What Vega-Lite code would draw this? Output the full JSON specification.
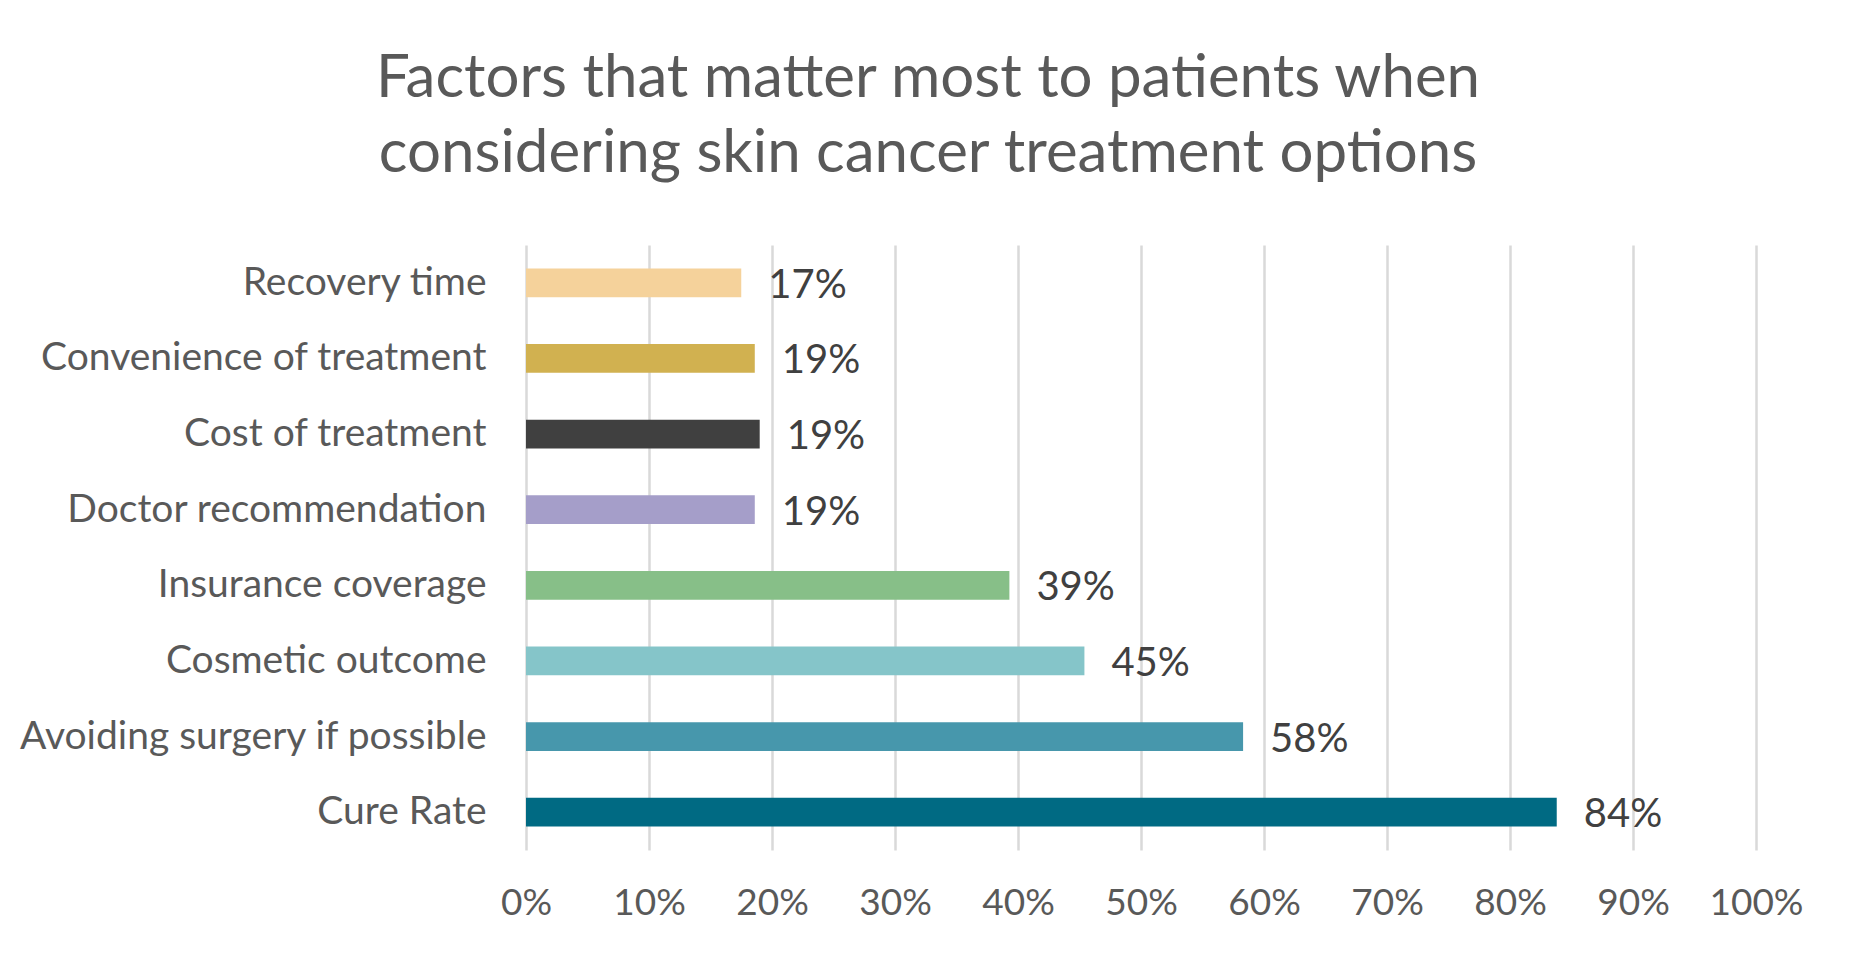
{
  "$schema": "https://vega.github.io/schema/vega-lite/v6.json",
  "autosize": {"type": "none"},
  "width": 1230,
  "height": 605,
  "padding": {"left": 526, "top": 245, "right": 104, "bottom": 112},
  "background": "white",
  "title": {
    "text": ["Factors that matter most to patients when", "considering skin cancer treatment options"],
    "font": "Lato",
    "fontSize": 60,
    "fontWeight": "normal",
    "color": "#595959",
    "anchor": "middle",
    "frame": "group",
    "dx": -213,
    "lineHeight": 75,
    "baseline": "alphabetic",
    "offset": 13
  },
  "data": {
    "values": [
      {"factor": "Recovery time", "value": 0.175, "label": "17%"},
      {"factor": "Convenience of treatment", "value": 0.186, "label": "19%"},
      {"factor": "Cost of treatment", "value": 0.19, "label": "19%"},
      {"factor": "Doctor recommendation", "value": 0.186, "label": "19%"},
      {"factor": "Insurance coverage", "value": 0.393, "label": "39%"},
      {"factor": "Cosmetic outcome", "value": 0.454, "label": "45%"},
      {"factor": "Avoiding surgery if possible", "value": 0.583, "label": "58%"},
      {"factor": "Cure Rate", "value": 0.838, "label": "84%"}
    ]
  },
  "encoding": {
    "y": {
      "field": "factor",
      "type": "nominal",
      "sort": null,
      "scale": {"paddingInner": 0.62, "paddingOuter": 0.31},
      "axis": {
        "title": null,
        "domain": false,
        "ticks": false,
        "labelFont": "Lato",
        "labelFontSize": 39,
        "labelColor": "#595959",
        "labelPadding": 40,
        "labelLimit": 0
      }
    },
    "x": {
      "field": "value",
      "type": "quantitative",
      "scale": {"domain": [0, 1], "nice": false},
      "axis": {
        "title": null,
        "values": [0, 0.1, 0.2, 0.3, 0.4, 0.5, 0.6, 0.7, 0.8, 0.9, 1],
        "format": ".0%",
        "domain": false,
        "ticks": false,
        "grid": true,
        "gridColor": "#d9d9d9",
        "gridWidth": 2.5,
        "labelFont": "Lato",
        "labelFontSize": 37,
        "labelColor": "#595959",
        "labelPadding": 35,
        "labelFlush": false
      }
    }
  },
  "layer": [
    {
      "mark": {"type": "bar"},
      "encoding": {
        "color": {
          "field": "factor",
          "type": "nominal",
          "legend": null,
          "scale": {
            "domain": ["Recovery time", "Convenience of treatment", "Cost of treatment", "Doctor recommendation", "Insurance coverage", "Cosmetic outcome", "Avoiding surgery if possible", "Cure Rate"],
            "range": ["#f5d29b", "#d1b150", "#404040", "#a59ec9", "#87bf88", "#85c5c9", "#4797ac", "#006a83"]
          }
        }
      }
    },
    {
      "mark": {
        "type": "text",
        "align": "left",
        "baseline": "middle",
        "dx": 27,
        "dy": 3,
        "font": "Lato",
        "fontSize": 40,
        "color": "#404040"
      },
      "encoding": {
        "text": {"field": "label", "type": "nominal"}
      }
    }
  ],
  "config": {
    "view": {"stroke": null}
  }
}
